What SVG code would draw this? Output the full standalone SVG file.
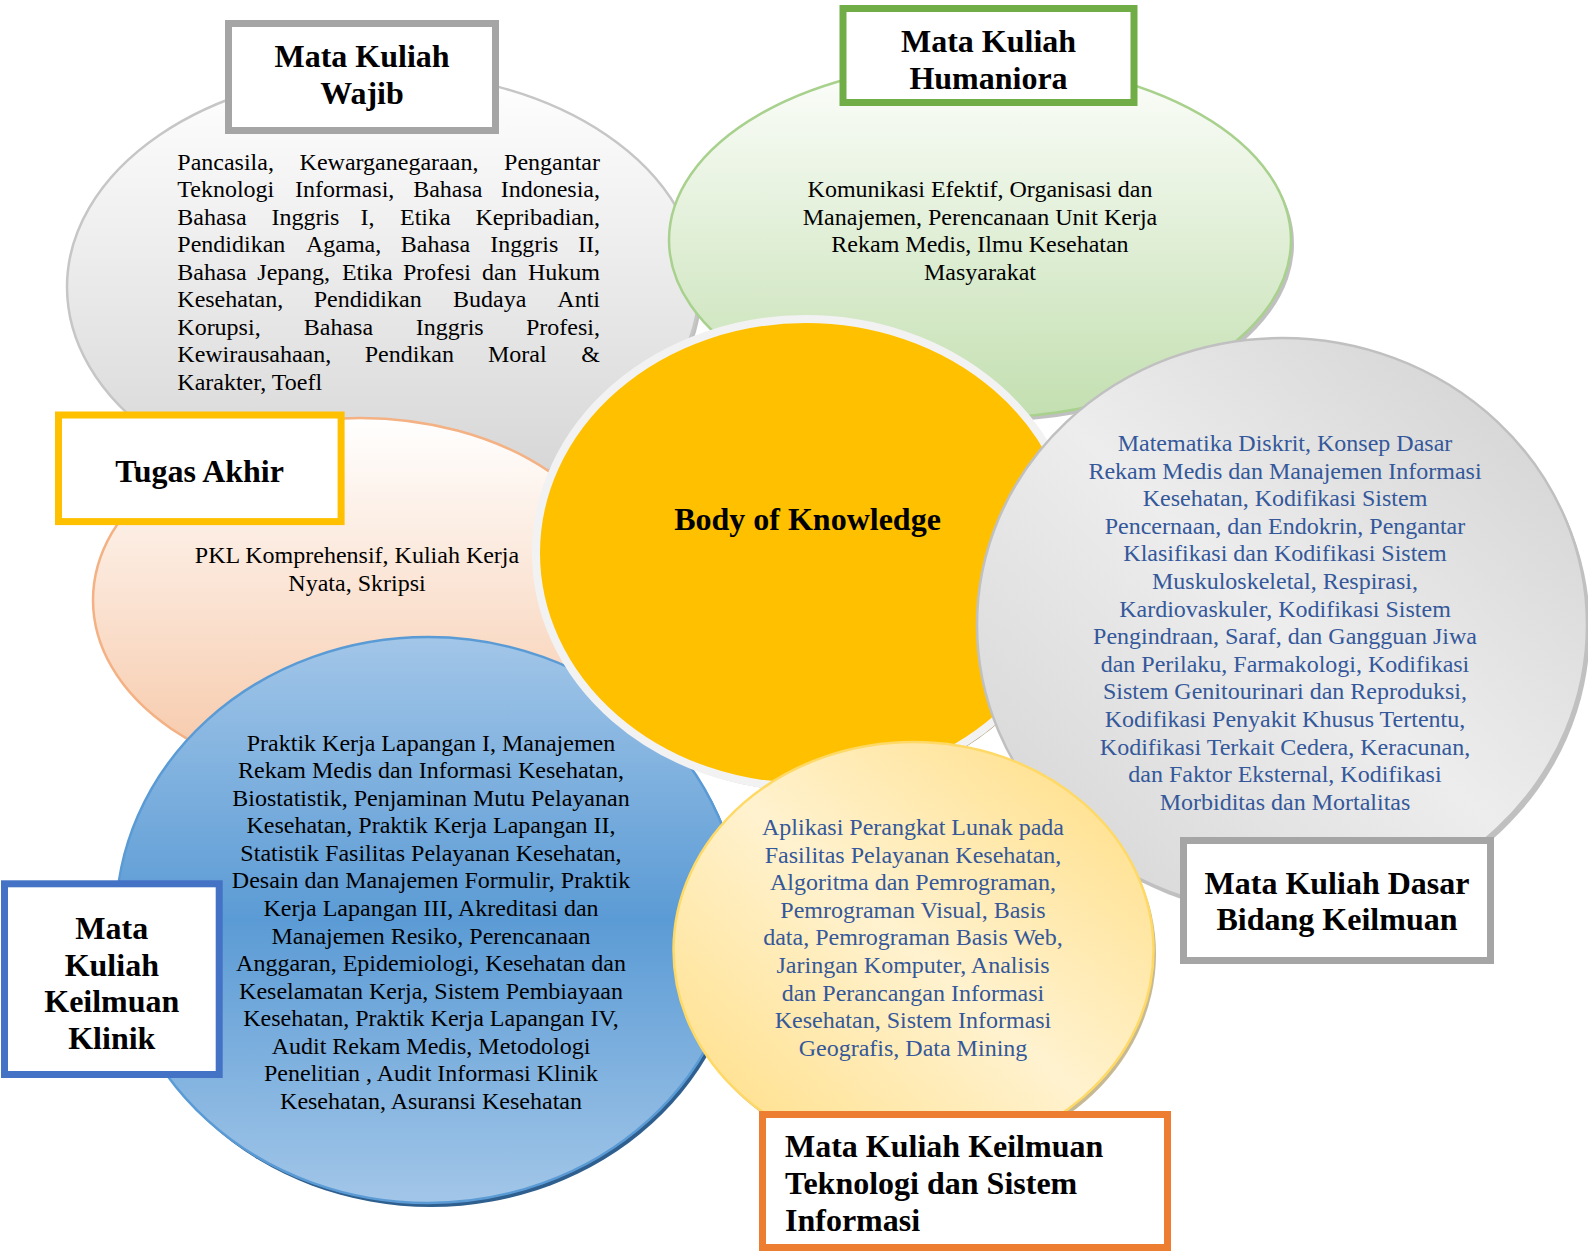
<svg xmlns="http://www.w3.org/2000/svg" width="1588" height="1251" viewBox="0 0 1588 1251">
<defs>
<linearGradient id="gWajib" x1="0" y1="0" x2="0" y2="1"><stop offset="0" stop-color="#ffffff"/><stop offset="1" stop-color="#d4d4d4"/></linearGradient>
<linearGradient id="gHum" x1="0" y1="0" x2="0" y2="1"><stop offset="0" stop-color="#fdfefc"/><stop offset="1" stop-color="#c3dfb0"/></linearGradient>
<linearGradient id="gPeach" x1="0" y1="0" x2="0" y2="1"><stop offset="0" stop-color="#ffffff"/><stop offset="1" stop-color="#f6c6a5"/></linearGradient>
<linearGradient id="gBlue" x1="0" y1="0" x2="0" y2="1"><stop offset="0" stop-color="#a2c6e8"/><stop offset="0.5" stop-color="#5b9bd5"/><stop offset="1" stop-color="#a2c6e8"/></linearGradient>
<linearGradient id="gDasar" x1="1" y1="0" x2="0" y2="1"><stop offset="0" stop-color="#cfcfcf"/><stop offset="0.5" stop-color="#ededed"/><stop offset="1" stop-color="#d2d2d2"/></linearGradient>
<linearGradient id="gTek" x1="1" y1="0" x2="0" y2="1"><stop offset="0" stop-color="#ffdc7e"/><stop offset="0.5" stop-color="#fff2cf"/><stop offset="1" stop-color="#ffdc7e"/></linearGradient>
<style>
.body{font-family:"Liberation Serif","Times New Roman",serif;font-size:24px;fill:#000}
.blue{font-family:"Liberation Serif","Times New Roman",serif;font-size:24px;fill:#34589a;text-anchor:middle}
.ctr{text-anchor:middle}
.end{text-anchor:end}
.title{font-family:"Liberation Serif","Times New Roman",serif;font-size:32px;font-weight:bold;fill:#000}
.box{fill:#ffffff;stroke-width:7}
.shadow{fill:#8c8c8c;opacity:0.55}
</style>
</defs>

<g id="node-wajib">
<ellipse class="shadow" cx="386" cy="290" rx="316" ry="215"/>
<ellipse cx="383" cy="287" rx="316" ry="215" fill="url(#gWajib)" stroke="#c6c6c6" stroke-width="2.5"/>
<text class="body" y="169.5"><tspan x="177.3">Pancasila,</tspan><tspan x="299.6">Kewarganegaraan,</tspan></text><text class="body end" x="600" y="169.5">Pengantar</text>
<text class="body" y="197"><tspan x="177.3">Teknologi</tspan><tspan x="295">Informasi,</tspan><tspan x="413.2">Bahasa</tspan></text><text class="body end" x="600" y="197">Indonesia,</text>
<text class="body" y="224.5"><tspan x="177.3">Bahasa</tspan><tspan x="271.4">Inggris</tspan><tspan x="360.6">I,</tspan><tspan x="400">Etika</tspan></text><text class="body end" x="600" y="224.5">Kepribadian,</text>
<text class="body" y="252"><tspan x="177.3">Pendidikan</tspan><tspan x="305.9">Agama,</tspan><tspan x="400.8">Bahasa</tspan><tspan x="490.3">Inggris</tspan></text><text class="body end" x="600" y="252">II,</text>
<text class="body" y="279.5"><tspan x="177.3">Bahasa</tspan><tspan x="257.3">Jepang,</tspan><tspan x="341.9">Etika</tspan><tspan x="402.9">Profesi</tspan><tspan x="482">dan</tspan></text><text class="body end" x="600" y="279.5">Hukum</text>
<text class="body" y="307"><tspan x="177.3">Kesehatan,</tspan><tspan x="313.7">Pendidikan</tspan><tspan x="453">Budaya</tspan></text><text class="body end" x="600" y="307">Anti</text>
<text class="body" y="334.5"><tspan x="177.3">Korupsi,</tspan><tspan x="303.8">Bahasa</tspan><tspan x="415.7">Inggris</tspan></text><text class="body end" x="600" y="334.5">Profesi,</text>
<text class="body" y="362"><tspan x="177.3">Kewirausahaan,</tspan><tspan x="364.7">Pendikan</tspan><tspan x="487.9">Moral</tspan></text><text class="body end" x="600" y="362">&amp;</text>
<text class="body" x="177.3" y="389.5">Karakter, Toefl</text>
<rect class="box" x="228.5" y="23.5" width="267" height="107" stroke="#a5a5a5"/>
<text class="title ctr" x="362" y="67">Mata Kuliah</text>
<text class="title ctr" x="362" y="104">Wajib</text>
</g>

<g id="node-humaniora">
<ellipse class="shadow" cx="983" cy="244" rx="311" ry="178"/>
<ellipse cx="980" cy="240" rx="311" ry="178" fill="url(#gHum)" stroke="#a9d18e" stroke-width="2.5"/>
<text class="body ctr" x="980" y="197">Komunikasi Efektif, Organisasi dan</text>
<text class="body ctr" x="980" y="224.5">Manajemen, Perencanaan Unit Kerja</text>
<text class="body ctr" x="980" y="252">Rekam Medis, Ilmu Kesehatan</text>
<text class="body ctr" x="980" y="279.5">Masyarakat</text>
<rect class="box" x="843" y="8.5" width="291" height="94" stroke="#70ad47"/>
<text class="title ctr" x="988.5" y="52">Mata Kuliah</text>
<text class="title ctr" x="988.5" y="88.5">Humaniora</text>
</g>

<g id="node-tugas-akhir">
<ellipse class="shadow" cx="363" cy="603" rx="267" ry="182"/>
<ellipse cx="360" cy="600" rx="267" ry="182" fill="url(#gPeach)" stroke="#f4b183" stroke-width="2.5"/>
<text class="body ctr" x="357" y="563">PKL Komprehensif, Kuliah Kerja</text>
<text class="body ctr" x="357" y="590.5">Nyata, Skripsi</text>
<rect class="box" x="58.5" y="415" width="282.6" height="106.6" stroke="#ffc000"/>
<text class="title ctr" x="199.6" y="481.7">Tugas Akhir</text>
</g>

<g id="node-klinik">
<ellipse cx="431" cy="924" rx="312" ry="283" fill="#2f5f8e"/>
<ellipse cx="428" cy="920" rx="312" ry="283" fill="url(#gBlue)" stroke="#5b9bd5" stroke-width="2.5"/>
<text class="body ctr" x="431" y="750.6">Praktik Kerja Lapangan I, Manajemen</text>
<text class="body ctr" x="431" y="778.2">Rekam Medis dan Informasi Kesehatan,</text>
<text class="body ctr" x="431" y="805.7">Biostatistik, Penjaminan Mutu Pelayanan</text>
<text class="body ctr" x="431" y="833.3">Kesehatan, Praktik Kerja Lapangan II,</text>
<text class="body ctr" x="431" y="860.8">Statistik Fasilitas Pelayanan Kesehatan,</text>
<text class="body ctr" x="431" y="888.4">Desain dan Manajemen Formulir, Praktik</text>
<text class="body ctr" x="431" y="915.9">Kerja Lapangan III, Akreditasi dan</text>
<text class="body ctr" x="431" y="943.5">Manajemen Resiko, Perencanaan</text>
<text class="body ctr" x="431" y="971">Anggaran, Epidemiologi, Kesehatan dan</text>
<text class="body ctr" x="431" y="998.6">Keselamatan Kerja, Sistem Pembiayaan</text>
<text class="body ctr" x="431" y="1026.1">Kesehatan, Praktik Kerja Lapangan IV,</text>
<text class="body ctr" x="431" y="1053.7">Audit Rekam Medis, Metodologi</text>
<text class="body ctr" x="431" y="1081.2">Penelitian , Audit Informasi Klinik</text>
<text class="body ctr" x="431" y="1108.8">Kesehatan, Asuransi Kesehatan</text>
<rect class="box" x="4.5" y="883.8" width="214.7" height="190.7" stroke="#4472c4"/>
<text class="title ctr" x="111.8" y="939">Mata</text>
<text class="title ctr" x="111.8" y="975.7">Kuliah</text>
<text class="title ctr" x="111.8" y="1012.4">Keilmuan</text>
<text class="title ctr" x="111.8" y="1049">Klinik</text>
</g>

<g id="node-body-of-knowledge">
<ellipse cx="808" cy="557" rx="270" ry="234" fill="#a8976a"/>
<ellipse cx="806" cy="553" rx="270" ry="234" fill="#ffc000" stroke="#f2f2f2" stroke-width="8"/>
<text class="title ctr" x="807.5" y="530">Body of Knowledge</text>
</g>

<g id="node-dasar">
<ellipse class="shadow" cx="1285" cy="629" rx="305" ry="287"/>
<ellipse cx="1282" cy="625" rx="305" ry="287" fill="url(#gDasar)" stroke="#c0c0c0" stroke-width="2.5"/>
<text class="blue" x="1285" y="451">Matematika Diskrit, Konsep Dasar</text>
<text class="blue" x="1285" y="478.6">Rekam Medis dan Manajemen Informasi</text>
<text class="blue" x="1285" y="506.2">Kesehatan, Kodifikasi Sistem</text>
<text class="blue" x="1285" y="533.8">Pencernaan, dan Endokrin, Pengantar</text>
<text class="blue" x="1285" y="561.4">Klasifikasi dan Kodifikasi Sistem</text>
<text class="blue" x="1285" y="589">Muskuloskeletal, Respirasi,</text>
<text class="blue" x="1285" y="616.6">Kardiovaskuler, Kodifikasi Sistem</text>
<text class="blue" x="1285" y="644.2">Pengindraan, Saraf, dan Gangguan Jiwa</text>
<text class="blue" x="1285" y="671.8">dan Perilaku, Farmakologi, Kodifikasi</text>
<text class="blue" x="1285" y="699.4">Sistem Genitourinari dan Reproduksi,</text>
<text class="blue" x="1285" y="727">Kodifikasi Penyakit Khusus Tertentu,</text>
<text class="blue" x="1285" y="754.6">Kodifikasi Terkait Cedera, Keracunan,</text>
<text class="blue" x="1285" y="782.2">dan Faktor Eksternal, Kodifikasi</text>
<text class="blue" x="1285" y="809.8">Morbiditas dan Mortalitas</text>
<rect class="box" x="1183.5" y="840.5" width="307" height="120" stroke="#a5a5a5"/>
<text class="title ctr" x="1337" y="893.5">Mata Kuliah Dasar</text>
<text class="title ctr" x="1337" y="930">Bidang Keilmuan</text>
</g>

<g id="node-teknologi">
<ellipse cx="916" cy="954" rx="240" ry="208" fill="#b8a878" opacity="0.8"/>
<ellipse cx="913.5" cy="950" rx="240" ry="208" fill="url(#gTek)" stroke="#ffd966" stroke-width="2.5"/>
<text class="blue" x="913" y="835">Aplikasi Perangkat Lunak pada</text>
<text class="blue" x="913" y="862.6">Fasilitas Pelayanan Kesehatan,</text>
<text class="blue" x="913" y="890.2">Algoritma dan Pemrograman,</text>
<text class="blue" x="913" y="917.8">Pemrograman Visual, Basis</text>
<text class="blue" x="913" y="945.4">data, Pemrograman Basis Web,</text>
<text class="blue" x="913" y="973">Jaringan Komputer, Analisis</text>
<text class="blue" x="913" y="1000.6">dan Perancangan Informasi</text>
<text class="blue" x="913" y="1028.2">Kesehatan, Sistem Informasi</text>
<text class="blue" x="913" y="1055.8">Geografis, Data Mining</text>
<rect class="box" x="762.5" y="1114.5" width="405" height="133" stroke="#ed7d31"/>
<text class="title" x="785" y="1157">Mata Kuliah Keilmuan</text>
<text class="title" x="785" y="1194">Teknologi dan Sistem</text>
<text class="title" x="785" y="1231">Informasi</text>
</g>

<g id="connectors"></g>
</svg>
